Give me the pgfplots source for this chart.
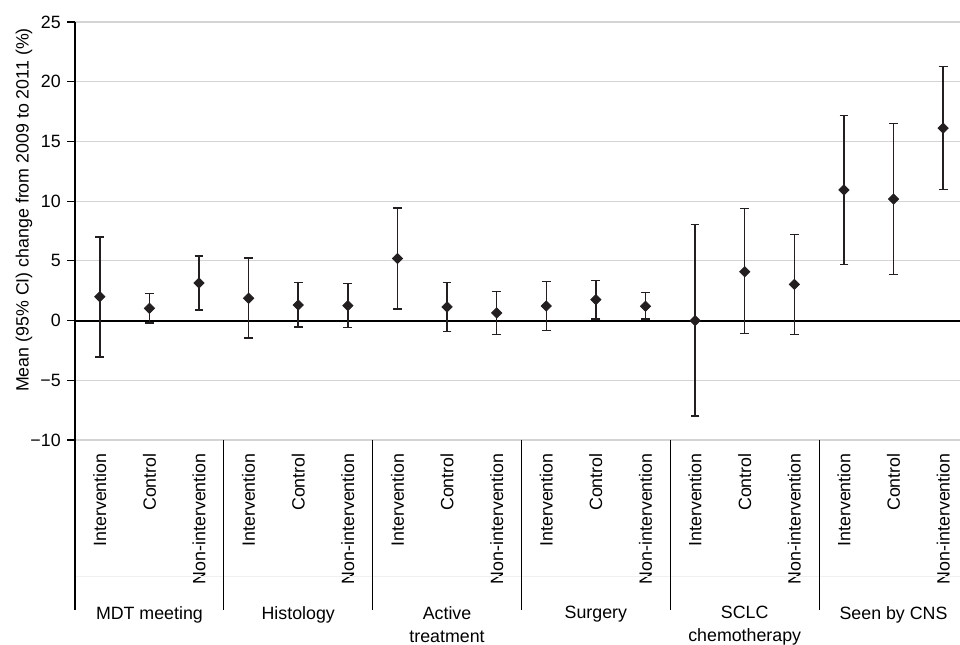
\documentclass[border=0pt]{standalone}
\usepackage{fontspec}
\setmainfont{Liberation Sans}
\usepackage{pgfplots}
\usepackage{pgfplotstable}
\pgfplotsset{compat=1.18}
\definecolor{mk}{HTML}{231F20}
\definecolor{gridc}{HTML}{D4D4D4}
\pgfplotstableread{
x y hi lo
0 2.0 7.0 -3.05
1 1.03 2.25 -0.2
2 3.15 5.4 0.9
3 1.87 5.24 -1.45
4 1.3 3.2 -0.55
5 1.25 3.12 -0.6
6 5.2 9.44 0.98
7 1.14 3.17 -0.92
8 0.64 2.45 -1.17
9 1.22 3.29 -0.81
10 1.75 3.37 0.14
11 1.2 2.34 0.14
12 0.0 8.05 -8.0
13 4.09 9.36 -1.09
14 3.03 7.21 -1.17
15 10.94 17.18 4.68
16 10.17 16.48 3.84
17 16.12 21.25 10.97
}\datatable
\tikzset{grp/.style={anchor=north, inner sep=0pt, align=center, font=\fontsize{8.9}{11.5}\selectfont, yshift=-83pt}}
\begin{document}
\fontsize{8.9}{10.7}\selectfont
\begin{tikzpicture}
\path[use as bounding box] (0,0) rectangle (480pt,322pt);
\begin{axis}[
  at={(37.5pt,102pt)}, anchor=south west,
  scale only axis, width=442.5pt, height=209pt,
  xmin=-0.5, xmax=17.34, ymin=-10, ymax=25,
  axis line style={draw=none},
  clip=false,
  ytick={-10,-5,0,5,10,15,20,25},
  yticklabels={−10,−5,0,5,10,15,20,25},
  ytick pos=left, tick align=outside, major tick length=4pt,
  ytick style={black, line width=0.6pt},
  ymajorgrids, grid style={gridc, line width=0.6pt},
  xtick={0,...,17},
  xticklabels={Intervention,Control,Non-intervention,Intervention,Control,Non-intervention,Intervention,Control,Non-intervention,Intervention,Control,Non-intervention,Intervention,Control,Non-intervention,Intervention,Control,Non-intervention},
  x tick style={draw=none},
  xticklabel style={rotate=90, anchor=east, inner sep=0pt, font=\fontsize{8.9}{10.7}\selectfont},
  xticklabel shift=2.5pt,
  yticklabel style={font=\fontsize{8.9}{10.7}\selectfont},
]
\draw[black, line width=1pt] (axis cs:-0.5,0) -- (axis cs:17.34,0);
\draw[gray!12, line width=0.5pt] (axis cs:-0.5,-10) ++(0pt,-68pt) -- ++(442.5pt,0pt);
\draw[black, line width=0.9pt] (axis cs:-0.5,25) -- (axis cs:-0.5,-10) -- ++(0pt,-85pt);
\draw[black, line width=0.6pt] (axis cs:2.5,-10) -- ++(0pt,-85pt);
\draw[black, line width=0.6pt] (axis cs:5.5,-10) -- ++(0pt,-85pt);
\draw[black, line width=0.6pt] (axis cs:8.5,-10) -- ++(0pt,-85pt);
\draw[black, line width=0.6pt] (axis cs:11.5,-10) -- ++(0pt,-85pt);
\draw[black, line width=0.6pt] (axis cs:14.5,-10) -- ++(0pt,-85pt);
\addplot[draw=none, mark=square*, mark size=1.8pt, mark options={rotate=45, fill=mk, draw=mk},
  error bars/.cd, y dir=both, y explicit,
  error bar style={mk, line width=0.75pt},
  error mark options={rotate=90, mark size=2.2pt, mk, line width=0.7pt}]
  table[x=x, y=y, y error plus expr=\thisrow{hi}-\thisrow{y}, y error minus expr=\thisrow{y}-\thisrow{lo}] {\datatable};
\node[grp] at (axis cs:1,-10) {MDT meeting};
\node[grp] at (axis cs:4,-10) {Histology};
\node[grp] at (axis cs:7,-10) {Active\\treatment};
\node[grp] at (axis cs:10,-10) {Surgery};
\node[grp] at (axis cs:13,-10) {SCLC\\chemotherapy};
\node[grp] at (axis cs:16,-10) {Seen by CNS};
\end{axis}
\node[rotate=90, font=\fontsize{8.9}{10.7}\selectfont] at (12pt,217pt) {Mean (95\% CI) change from 2009 to 2011 (\%)};
\end{tikzpicture}
\end{document}
